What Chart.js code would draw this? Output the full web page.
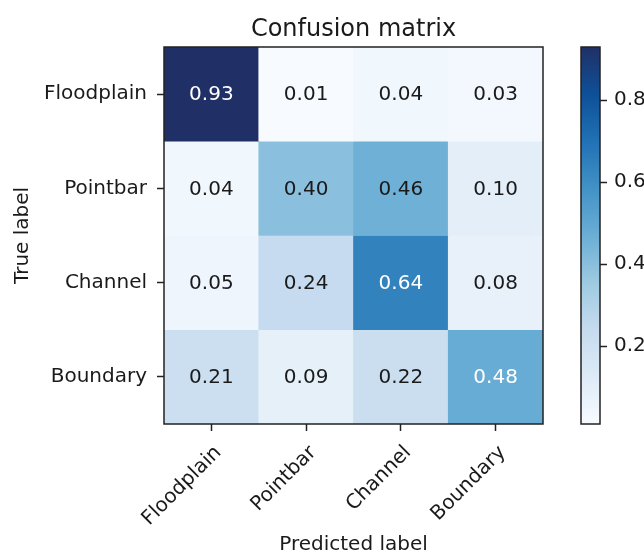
<!DOCTYPE html>
<html>
<head>
<meta charset="utf-8">
<script src="https://cdn.jsdelivr.net/npm/chart.js@4.4.0/dist/chart.umd.min.js"></script>
<style>
  body { margin: 0; background: #fff; }
  #wrap { position: relative; width: 644px; height: 557px; }
  #wrap canvas { position: absolute; left: 0; top: 0; }
</style>
</head>
<body>
<div id="wrap">
  <canvas id="matrixChart" width="644" height="557"></canvas>
  <canvas id="colorbarChart" width="644" height="557"></canvas>
</div>
<script>
    // class names, same order on both axes
    const classLabels = ['Floodplain', 'Pointbar', 'Channel', 'Boundary'];

    // rows = true label, columns = predicted label
    const floodplainRow = [0.93, 0.01, 0.04, 0.03];
    const pointbarRow = [0.04, 0.40, 0.46, 0.10];
    const channelRow = [0.05, 0.24, 0.64, 0.08];
    const boundaryRow = [0.21, 0.09, 0.22, 0.48];
    const matrixRows = [floodplainRow, pointbarRow, channelRow, boundaryRow];

    const colorbarTicks = [0.2, 0.4, 0.6, 0.8];

    const allValues = matrixRows.flat();
    const vmin = Math.min(...allValues);
    const vmax = Math.max(...allValues);
    const thresh = vmax / 2;

    // "Blues" colormap stops (dark end toned to match the picture)
    const BLUES = [
        [247, 251, 255], [222, 235, 247], [198, 219, 239], [158, 202, 225],
        [107, 174, 214], [66, 146, 198], [33, 113, 181], [14, 80, 152], [32, 48, 102]
    ];

    function blues(t) {
        t = Math.max(0, Math.min(1, t));
        const pos = t * (BLUES.length - 1);
        const i = Math.min(Math.floor(pos), BLUES.length - 2);
        const f = pos - i;
        const a = BLUES[i], b = BLUES[i + 1];
        const c = a.map((v, k) => Math.round(v + (b[k] - v) * f));
        return 'rgb(' + c.join(',') + ')';
    }

    function cellColor(v) {
        return blues((v - vmin) / (vmax - vmin));
    }

    Chart.defaults.font.family = "'DejaVu Sans', sans-serif";
    Chart.defaults.color = '#1a1a1a';

    const cellText = {
        id: 'cellText',
        afterDatasetsDraw(chart) {
            const ctx = chart.ctx;
            ctx.save();
            ctx.font = "20px 'DejaVu Sans'";
            ctx.textAlign = 'center';
            ctx.textBaseline = 'middle';
            chart.data.datasets.forEach(function (ds, i) {
                chart.getDatasetMeta(i).data.forEach(function (bar, j) {
                    const v = matrixRows[i][j];
                    ctx.fillStyle = v > thresh ? '#ffffff' : '#1a1a1a';
                    ctx.fillText(v.toFixed(2), bar.x, (bar.y + bar.base) / 2 + 1);
                });
            });
            const a = chart.chartArea;
            ctx.strokeStyle = '#222';
            ctx.lineWidth = 1.5;
            ctx.strokeRect(a.left, a.top, a.right - a.left, a.bottom - a.top);
            ctx.restore();
        }
    };

    // one floating bar per cell: row i spans [i, i+1] on a reversed y axis
    const matrixDatasets = matrixRows.map(function (row, i) {
        return {
            label: classLabels[i],
            data: row.map(function () { return [i, i + 1]; }),
            backgroundColor: row.map(cellColor),
            borderWidth: 0,
            barPercentage: 1,
            categoryPercentage: 1,
            grouped: false
        };
    });

    new Chart(document.getElementById('matrixChart'), {
        type: 'bar',
        data: {
            labels: classLabels,
            datasets: matrixDatasets
        },
        options: {
            responsive: false,
            animation: false,
            layout: { padding: { left: 0, right: 101, top: 0, bottom: 0 } },
            plugins: {
                legend: { display: false },
                tooltip: { enabled: false },
                title: { display: false }
            },
            scales: {
                x: {
                    type: 'category',
                    afterFit: function (scale) { scale.height = 133; },
                    grid: {
                        offset: false,
                        drawOnChartArea: false,
                        tickLength: 7,
                        tickColor: '#222',
                        tickWidth: 1.5
                    },
                    border: { display: false },
                    ticks: {
                        font: { size: 20 },
                        color: '#1a1a1a',
                        minRotation: 45,
                        maxRotation: 45,
                        padding: 10,
                        labelOffset: 7
                    },
                    title: {
                        display: true,
                        text: 'Predicted label',
                        color: '#1a1a1a',
                        font: { size: 20 },
                        padding: { top: 0, bottom: 0 }
                    }
                },
                // top axis only carries the chart title, centred over the matrix
                xTop: {
                    type: 'category',
                    position: 'top',
                    afterFit: function (scale) { scale.height = 47; },
                    grid: { display: false },
                    border: { display: false },
                    ticks: { display: false },
                    title: {
                        display: true,
                        text: 'Confusion matrix',
                        color: '#1a1a1a',
                        font: { size: 24 },
                        padding: { top: 15, bottom: 0 }
                    }
                },
                y: {
                    type: 'linear',
                    min: 0,
                    max: 4,
                    reverse: true,
                    afterFit: function (scale) { scale.width = 164; },
                    afterBuildTicks: function (scale) {
                        scale.ticks = classLabels.map(function (_, i) { return { value: i + 0.5 }; });
                    },
                    grid: {
                        drawOnChartArea: false,
                        tickLength: 7,
                        tickColor: '#222',
                        tickWidth: 1.5
                    },
                    border: { display: false },
                    ticks: {
                        font: { size: 20 },
                        color: '#1a1a1a',
                        padding: 10,
                        callback: function (value) { return classLabels[Math.floor(value)]; }
                    },
                    title: {
                        display: true,
                        text: 'True label',
                        color: '#1a1a1a',
                        font: { size: 20 },
                        padding: { top: 11, bottom: 0 }
                    }
                }
            }
        },
        plugins: [cellText]
    });

    const colorbarFrame = {
        id: 'colorbarFrame',
        afterDatasetsDraw(chart) {
            const a = chart.chartArea;
            const ctx = chart.ctx;
            ctx.save();
            ctx.strokeStyle = '#222';
            ctx.lineWidth = 1.5;
            ctx.strokeRect(a.left, a.top, a.right - a.left, a.bottom - a.top);
            ctx.restore();
        }
    };

    new Chart(document.getElementById('colorbarChart'), {
        type: 'bar',
        data: {
            labels: ['scale'],
            datasets: [{
                data: [[vmin, vmax]],
                barPercentage: 1,
                categoryPercentage: 1,
                borderWidth: 0,
                backgroundColor: function (context) {
                    const chart = context.chart;
                    if (!chart.chartArea) return 'rgb(247,251,255)';
                    const ys = chart.scales.y;
                    const g = chart.ctx.createLinearGradient(0, ys.getPixelForValue(vmin), 0, ys.getPixelForValue(vmax));
                    BLUES.forEach(function (c, k) {
                        g.addColorStop(k / (BLUES.length - 1), 'rgb(' + c.join(',') + ')');
                    });
                    return g;
                }
            }]
        },
        options: {
            responsive: false,
            animation: false,
            layout: { padding: { left: 581, right: 0, top: 47, bottom: 133 } },
            plugins: {
                legend: { display: false },
                tooltip: { enabled: false }
            },
            scales: {
                x: { display: false },
                y: {
                    position: 'right',
                    min: vmin,
                    max: vmax,
                    afterFit: function (scale) { scale.width = 44; },
                    afterBuildTicks: function (scale) {
                        scale.ticks = colorbarTicks.map(function (v) { return { value: v }; });
                    },
                    grid: {
                        drawOnChartArea: false,
                        tickLength: 7,
                        tickColor: '#222',
                        tickWidth: 1.5
                    },
                    border: { display: false },
                    ticks: {
                        font: { size: 20 },
                        color: '#1a1a1a',
                        padding: 7,
                        callback: function (value) { return value.toFixed(1); }
                    }
                }
            }
        },
        plugins: [colorbarFrame]
    });
</script>
</body>
</html>
